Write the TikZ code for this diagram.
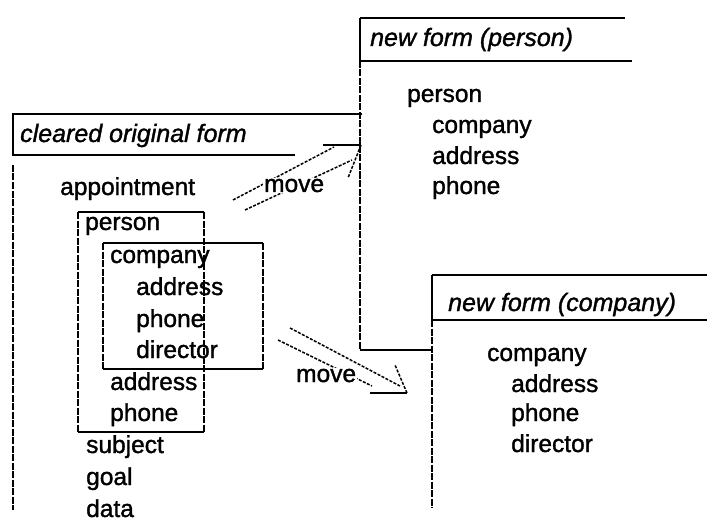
\documentclass[tikz,border=0pt]{standalone}
\usepackage{fontspec}
\setmainfont[FakeBold=1.3]{Liberation Sans}
\begin{document}
\begin{tikzpicture}[x=1pt,y=-1pt,
  txt/.style={anchor=base west,inner sep=0pt,font=\fontsize{24.5}{28}\selectfont},
  ttl/.style={txt,font=\fontsize{25}{28}\selectfont\itshape},
  hline/.style={line width=2.2pt},
  vline/.style={line width=1.3pt,dash pattern=on 7pt off 1.5pt},
  arr/.style={line width=1.5pt,dash pattern=on 3pt off 1.5pt},
  mv/.style={txt,fill=white,inner sep=1pt}]
\useasboundingbox (0,0) rectangle (707,532);

% ---- form 1: cleared original form
\draw[hline] (12,114) -- (362,114);
\draw[hline] (12,155) -- (295,155);
\draw[line width=1.3pt] (13,114) -- (13,155);
\draw[vline] (13,165) -- (13,510);
\node[ttl] (t1) at (20,142) {cleared original form};
\node[txt] (appt) at (60,195) {appointment};
% person box
\draw[hline] (78,212) -- (204,212);
\draw[hline] (78,432) -- (204,432);
\draw[vline] (78,212) -- (78,432);
\draw[vline] (204,212) -- (204,432);
% company box
\draw[hline] (103,243) -- (263,243);
\draw[hline] (103,369) -- (263,369);
\draw[vline] (103,243) -- (103,369);
\draw[vline] (263,243) -- (263,369);
\node[txt] (p1) at (85,230) {person};
\node[txt] (c1) at (110,263) {company};
\node[txt] (a1) at (136,295) {address};
\node[txt] (ph1) at (136,327) {phone};
\node[txt] (d1) at (136,358) {director};
\node[txt] (a2) at (110,390) {address};
\node[txt] (ph2) at (110,421) {phone};
\node[txt] (s1) at (86,453) {subject};
\node[txt] (g1) at (86,485) {goal};
\node[txt] (da1) at (86,517) {data};

% ---- form 2: new form (person)
\draw[hline] (360,18) -- (625,18);
\draw[hline] (360,61) -- (632,61);
\draw[line width=1.3pt] (360,18) -- (360,61);
\draw[vline] (360,61) -- (360,350);
\draw[hline] (360,350) -- (432,350);
\node[ttl] (t2) at (370,46) {new form (person)};
\node[txt] (p2) at (407,102) {person};
\node[txt] (c2) at (432,133) {company};
\node[txt] (a3) at (432,164) {address};
\node[txt] (ph3) at (432,194) {phone};

% ---- form 3: new form (company)
\draw[hline] (432,275) -- (707,275);
\draw[hline] (432,320) -- (707,320);
\draw[line width=1.3pt] (432,275) -- (432,320);
\draw[vline] (432,320) -- (432,508);
\node[ttl] (t3) at (448,311) {new form (company)};
\node[txt] (c3) at (487,361) {company};
\node[txt] (a4) at (511,392) {address};
\node[txt] (ph4) at (511,421) {phone};
\node[txt] (d3) at (511,452) {director};

% ---- move arrow 1
\coordinate (tip1) at (361,145);
\draw[arr] (233,200) -- (334,147);
\draw[arr] (245,210) -- (352,160);
\draw[line width=2pt] (tip1) -- (323,145);
\draw[arr] (tip1) -- (348,178);
\node[mv] (mv1) at (263,192) {move};

% ---- move arrow 2
\coordinate (tip2) at (407,393);
\draw[arr] (290,328) -- (400,386);
\draw[arr] (278,340) -- (372,386);
\draw[line width=2pt] (tip2) -- (370,393);
\draw[arr] (tip2) -- (395,365);
\node[mv] (mv2) at (295,382) {move};
\end{tikzpicture}
\end{document}
